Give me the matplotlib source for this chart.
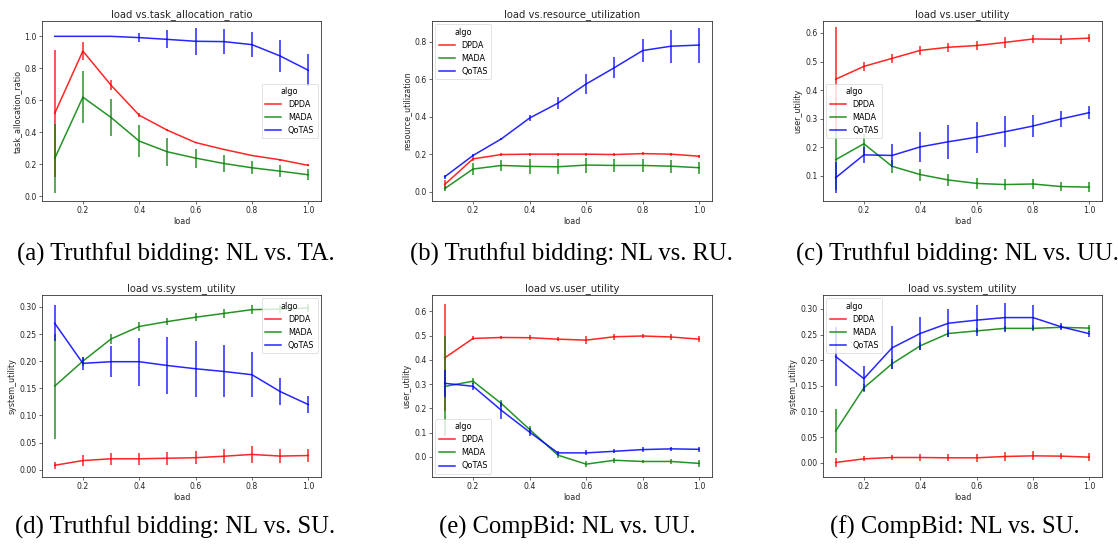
import matplotlib
matplotlib.use("Agg")
import matplotlib.pyplot as plt

# ---------------- data ----------------
load = [0.1, 0.2, 0.3, 0.4, 0.5, 0.6, 0.7, 0.8, 0.9, 1.0]
algos = ["DPDA", "MADA", "QoTAS"]
colors = ["red", "green", "blue"]

# (a) truthful: task_allocation_ratio
a_dpda = [0.517, 0.908, 0.694, 0.506, 0.412, 0.335, 0.292, 0.254, 0.227, 0.192]
a_dpda_err = [0.40, 0.057, 0.03, 0.012, 0.006, 0.005, 0.005, 0.005, 0.005, 0.006]
a_mada = [0.235, 0.619, 0.492, 0.344, 0.277, 0.2375, 0.204, 0.177, 0.156, 0.133]
a_mada_err = [0.216, 0.1625, 0.117, 0.098, 0.0875, 0.06, 0.052, 0.04, 0.038, 0.034]
a_qotas = [1.0, 1.0, 1.0, 0.992, 0.981, 0.969, 0.967, 0.948, 0.877, 0.7875]
a_qotas_err = [0.0, 0.0, 0.0, 0.03, 0.057, 0.084, 0.077, 0.077, 0.099, 0.10]

# (b) truthful: resource_utilization
b_dpda = [0.04, 0.176, 0.199, 0.201, 0.201, 0.201, 0.199, 0.204, 0.201, 0.19]
b_dpda_err = [0.026, 0.01, 0.008, 0.008, 0.008, 0.008, 0.008, 0.008, 0.008, 0.008]
b_mada = [0.018, 0.122, 0.141, 0.136, 0.134, 0.143, 0.141, 0.141, 0.137, 0.129]
b_mada_err = [0.012, 0.033, 0.03, 0.039, 0.04, 0.04, 0.035, 0.035, 0.035, 0.032]
b_qotas = [0.081, 0.194, 0.282, 0.393, 0.472, 0.574, 0.661, 0.752, 0.775, 0.781]
b_qotas_err = [0.01, 0.008, 0.006, 0.015, 0.032, 0.055, 0.055, 0.063, 0.088, 0.093]

# (c) truthful: user_utility
c_dpda = [0.438, 0.483, 0.511, 0.539, 0.55, 0.556, 0.567, 0.579, 0.578, 0.582]
c_dpda_err = [0.183, 0.015, 0.015, 0.015, 0.015, 0.015, 0.018, 0.015, 0.015, 0.015]
c_mada = [0.156, 0.212, 0.133, 0.104, 0.085, 0.073, 0.069, 0.071, 0.062, 0.06]
c_mada_err = [0.105, 0.035, 0.023, 0.021, 0.02, 0.018, 0.018, 0.018, 0.017, 0.018]
c_qotas = [0.093, 0.173, 0.171, 0.201, 0.219, 0.235, 0.254, 0.274, 0.299, 0.321]
c_qotas_err = [0.055, 0.028, 0.039, 0.052, 0.06, 0.054, 0.055, 0.038, 0.027, 0.023]

# (d) truthful: system_utility
d_dpda = [0.008, 0.0167, 0.020, 0.020, 0.021, 0.022, 0.0247, 0.028, 0.025, 0.026]
d_dpda_err = [0.006, 0.01, 0.011, 0.011, 0.012, 0.012, 0.013, 0.016, 0.013, 0.012]
d_mada = [0.154, 0.200, 0.241, 0.264, 0.273, 0.281, 0.288, 0.295, 0.296, 0.298]
d_mada_err = [0.097, 0.008, 0.01, 0.008, 0.007, 0.007, 0.008, 0.008, 0.008, 0.008]
d_qotas = [0.270, 0.196, 0.199, 0.199, 0.192, 0.186, 0.181, 0.175, 0.144, 0.120]
d_qotas_err = [0.033, 0.012, 0.029, 0.044, 0.052, 0.052, 0.048, 0.042, 0.025, 0.016]

# (e) CompBid: user_utility
e_dpda = [0.408, 0.488, 0.492, 0.491, 0.485, 0.481, 0.495, 0.498, 0.494, 0.485]
e_dpda_err = [0.221, 0.008, 0.008, 0.01, 0.008, 0.015, 0.012, 0.008, 0.012, 0.013]
e_mada = [0.290, 0.312, 0.220, 0.113, 0.007, -0.030, -0.014, -0.019, -0.019, -0.027]
e_mada_err = [0.206, 0.012, 0.015, 0.015, 0.01, 0.013, 0.01, 0.007, 0.01, 0.014]
e_qotas = [0.303, 0.291, 0.192, 0.102, 0.0164, 0.0164, 0.023, 0.030, 0.033, 0.031]
e_qotas_err = [0.055, 0.015, 0.035, 0.015, 0.008, 0.01, 0.008, 0.009, 0.008, 0.009]

# (f) CompBid: system_utility
f_dpda = [0.0006, 0.0077, 0.0103, 0.0103, 0.0097, 0.0097, 0.0123, 0.0135, 0.013, 0.011]
f_dpda_err = [0.008, 0.005, 0.005, 0.006, 0.007, 0.008, 0.008, 0.009, 0.006, 0.008]
f_mada = [0.062, 0.146, 0.193, 0.228, 0.252, 0.257, 0.262, 0.262, 0.264, 0.2625]
f_mada_err = [0.042, 0.008, 0.01, 0.008, 0.006, 0.005, 0.005, 0.006, 0.004, 0.007]
f_qotas = [0.207, 0.164, 0.224, 0.252, 0.272, 0.278, 0.283, 0.283, 0.265, 0.2516]
f_qotas_err = [0.057, 0.025, 0.042, 0.033, 0.027, 0.03, 0.028, 0.025, 0.007, 0.006]

titles = ["load vs.task_allocation_ratio", "load vs.resource_utilization",
          "load vs.user_utility", "load vs.system_utility",
          "load vs.user_utility", "load vs.system_utility"]
ylabels = ["task_allocation_ratio", "resource_utilization", "user_utility",
           "system_utility", "user_utility", "system_utility"]
captions = ["(a) Truthful bidding: NL vs. TA.", "(b) Truthful bidding: NL vs. RU.",
            "(c) Truthful bidding: NL vs. UU.", "(d) Truthful bidding: NL vs. SU.",
            "(e) CompBid: NL vs. UU.", "(f) CompBid: NL vs. SU."]

panels = [
    ([a_dpda, a_mada, a_qotas], [a_dpda_err, a_mada_err, a_qotas_err]),
    ([b_dpda, b_mada, b_qotas], [b_dpda_err, b_mada_err, b_qotas_err]),
    ([c_dpda, c_mada, c_qotas], [c_dpda_err, c_mada_err, c_qotas_err]),
    ([d_dpda, d_mada, d_qotas], [d_dpda_err, d_mada_err, d_qotas_err]),
    ([e_dpda, e_mada, e_qotas], [e_dpda_err, e_mada_err, e_qotas_err]),
    ([f_dpda, f_mada, f_qotas], [f_dpda_err, f_mada_err, f_qotas_err]),
]

# ---------------- layout ----------------
W, H = 1118, 547
fig = plt.figure(figsize=(W / 100, H / 100), dpi=100)
fig.patch.set_facecolor("white")

col_px = [(42, 321), (432, 712), (823, 1102)]
row_px = [(21, 201), (295, 477)]
ylims = [(-0.031, 1.096), (-0.048, 0.909), (0.0114, 0.642),
         (-0.0136, 0.322), (-0.083, 0.667), (-0.0277, 0.327)]
yticks = [[0.0, 0.2, 0.4, 0.6, 0.8, 1.0], [0.0, 0.2, 0.4, 0.6, 0.8],
          [0.1, 0.2, 0.3, 0.4, 0.5, 0.6],
          [0.0, 0.05, 0.10, 0.15, 0.20, 0.25, 0.30],
          [0.0, 0.1, 0.2, 0.3, 0.4, 0.5, 0.6],
          [0.0, 0.05, 0.10, 0.15, 0.20, 0.25, 0.30]]
ytickfmt = ["%.1f", "%.1f", "%.1f", "%.2f", "%.1f", "%.2f"]
legend_locs = ["center right", "upper left", "center left",
               "upper right", "lower left", "upper left"]
caption_y = [254, 527]
caption_x = [175.5, 571, 957.5, 175.5, 567, 955]

tick_fs = 5.6
leg_fs = 5.9
lab_fs = 5.8
title_fs = 7.2

for i, ((means, errs)) in enumerate(panels):
    r, c = divmod(i, 3)
    x0, x1 = col_px[c]
    y0, y1 = row_px[r]
    ax = fig.add_axes([x0 / W, 1 - y1 / H, (x1 - x0) / W, (y1 - y0) / H])
    for name, col, m, e in zip(algos, colors, means, errs):
        ax.plot(load, m, color=col, lw=1.1, label=name, alpha=0.85)
        ax.errorbar(load, m, yerr=e, fmt="none", ecolor=col, elinewidth=1.1,
                    capsize=0, alpha=0.85)
    ax.set_xlim(0.055, 1.045)
    ax.set_ylim(*ylims[i])
    ax.set_xticks([0.2, 0.4, 0.6, 0.8, 1.0])
    ax.set_xticklabels(["0.2", "0.4", "0.6", "0.8", "1.0"])
    ax.set_yticks(yticks[i])
    ax.set_yticklabels([ytickfmt[i] % v for v in yticks[i]])
    ax.tick_params(labelsize=tick_fs, length=2.2, width=0.5, pad=1.5,
                   colors="#333333", labelcolor="#262626")
    for s in ax.spines.values():
        s.set_linewidth(0.6)
        s.set_color("#333333")
    ax.set_title(titles[i], fontsize=title_fs, pad=3, color="#262626")
    ax.set_xlabel("load", fontsize=lab_fs, labelpad=1, color="#262626")
    ax.set_ylabel(ylabels[i], fontsize=lab_fs, labelpad=2, color="#262626")
    leg = ax.legend(title="algo", loc=legend_locs[i], fontsize=leg_fs,
                    title_fontsize=leg_fs, handlelength=2.0, borderpad=0.4,
                    labelspacing=0.5, handletextpad=0.8, borderaxespad=0.4,
                    framealpha=0.8)
    leg.get_frame().set_linewidth(0.5)
    for line in leg.get_lines():
        line.set_linewidth(1.1)
    # caption
    fig.text(caption_x[i] / W, 1 - caption_y[r] / H, captions[i],
             ha="center", va="center", fontsize=17.7,
             family="Liberation Serif", color="black")

fig.savefig("out.png", dpi=100, facecolor="white")
